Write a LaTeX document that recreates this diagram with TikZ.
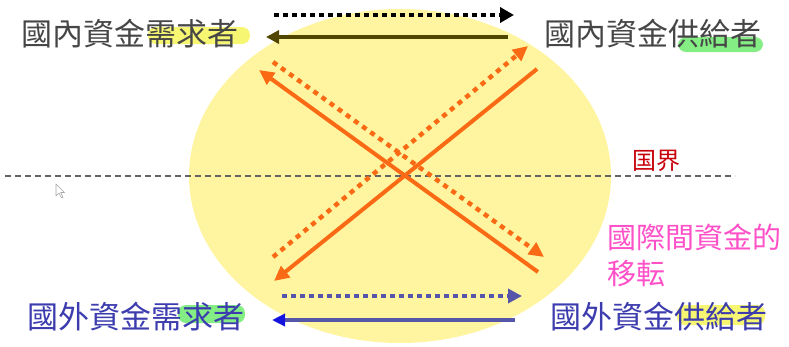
\documentclass[tikz,border=0pt]{standalone}
\usepackage{fontspec}
\newfontfamily\cjk{Noto Sans CJK TC}
\usetikzlibrary{arrows.meta}
\definecolor{ellfill}{RGB}{255,245,160}
\definecolor{orng}{RGB}{250,105,20}
\definecolor{oliveln}{RGB}{80,70,0}
\definecolor{slateb}{RGB}{85,85,170}
\definecolor{bluetxt}{RGB}{60,60,175}
\definecolor{graytxt}{RGB}{70,70,70}
\definecolor{hly}{RGB}{245,245,90}
\definecolor{hlg}{RGB}{110,235,110}
\definecolor{redhand}{RGB}{200,0,10}
\definecolor{pinkhand}{RGB}{255,80,200}
\definecolor{dashgray}{RGB}{100,100,100}
\definecolor{tipblue}{RGB}{20,20,220}
\tikzset{
  lbl/.style={font=\cjk\fontsize{31}{31}\selectfont, inner sep=0pt},
  hand/.style={font=\cjk\fontsize{29}{29}\selectfont, inner sep=0pt},
  dotline/.style={line width=4pt, dash pattern=on 4.5pt off 4.5pt},
  odot/.style={line width=4.5pt, dash pattern=on 5pt off 5pt, orng},
  osolid/.style={line width=4pt, orng},
  tip/.style={-{Triangle[length=15pt,width=14pt]}},
  hl/.style={rounded corners=8pt, opacity=0.85},
}
\begin{document}
\begin{tikzpicture}[x=1pt,y=-1pt]
\useasboundingbox (0,0) rectangle (789,346);
% ellipse
\fill[ellfill] (400,176) ellipse [x radius=211, y radius=167];
% border dashed line
\coordinate (bl) at (5,176);
\coordinate (br) at (735,176);
\draw[dashgray, line width=1.6pt, dash pattern=on 6pt off 4pt] (bl) -- (br);
% mouse cursor
\draw[gray!70, fill=white, line width=0.6pt, line join=round]
  (56,184) -- (56,196) -- (59,193) -- (61.5,198) -- (63,197.3) -- (60.7,192.5) -- (64.5,192.5) -- cycle;
% orange arrows
\coordinate (a1) at (273,257); \coordinate (a2) at (528,46);
\coordinate (b1) at (273,62);  \coordinate (b2) at (544,257);
\coordinate (c1) at (537,69);  \coordinate (c2) at (274,281);
\coordinate (d1) at (538,272); \coordinate (d2) at (259,70);
\draw[odot, tip] (a1) -- (a2);
\draw[odot, tip] (b1) -- (b2);
\draw[osolid, tip] (c1) -- (c2);
\draw[osolid, tip] (d1) -- (d2);
% top arrows
\coordinate (t1) at (274,15); \coordinate (t2) at (514,15);
\coordinate (t3) at (508,37); \coordinate (t4) at (266,37);
\draw[dotline, black, -{Triangle[length=14pt,width=15pt]}] (t1) -- (t2);
\draw[line width=4pt, oliveln, -{Triangle[length=13pt,width=13pt]}] (t3) -- (t4);
% bottom arrows
\coordinate (u1) at (282,296); \coordinate (u2) at (522,296);
\coordinate (u3) at (515,320); \coordinate (u4) at (272,320);
\draw[dotline, slateb, -{Triangle[length=14pt,width=14pt]}] (u1) -- (u2);
\draw[line width=4pt, slateb] (u3) -- (285,320);
\draw[line width=4pt, slateb, -{Triangle[length=13pt,width=12pt, color=tipblue]}] (290,320) -- (u4);
% highlights
\fill[hly, hl] (148,27) rectangle (250,44);
\fill[hlg, hl] (678,37) rectangle (763,52);
\fill[hlg, hl] (178,305) rectangle (245,323);
\fill[hly, hl] (677,305) rectangle (765,325);
% texts
\node[lbl, text=graytxt] (tl) at (130,34) {國內資金需求者};
\node[lbl, text=graytxt] (tr) at (653,34) {國內資金供給者};
\node[lbl, text=bluetxt] (bl2) at (136,317) {國外資金需求者};
\node[lbl, text=bluetxt] (br2) at (659,317) {國外資金供給者};
% handwritten notes
\node[font=\cjk\fontsize{24}{24}\selectfont, inner sep=0pt, text=redhand] (border) at (656,161) {国界};
\node[hand, text=pinkhand, anchor=west] (flow1) at (607,237) {國際間資金的};
\node[hand, text=pinkhand, anchor=west] (flow2) at (607,273) {移転};
\end{tikzpicture}
\end{document}
